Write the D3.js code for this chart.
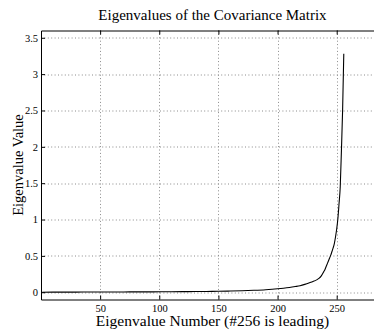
<!DOCTYPE html>
<html>
<head>
<meta charset="utf-8">
<script src="https://cdn.jsdelivr.net/npm/d3@7"></script>
<style>
  body { margin: 0; background: white; }
  svg { display: block; }
  text { font-family: "Liberation Serif", "DejaVu Serif", serif; fill: black; }
</style>
</head>
<body>
<div id="chart"></div>
<script>
//----------data---------
// eigenvalue number (x) and eigenvalue (y), denser where the curve bends
const eigIndex = [1, 10, 20, 30, 40, 50, 60, 70, 80, 90, 100, 110, 120, 130, 140, 150,
  160, 170, 180, 190, 200, 205, 210, 215, 219, 223, 227, 230, 233, 235, 237, 239, 240,
  241, 242, 243, 244, 245, 246, 247, 248, 249, 250, 251, 252, 253, 254, 255, 256];
const eigValue = [0.0003, 0.001, 0.0015, 0.002, 0.0025, 0.003, 0.0035, 0.004, 0.0045, 0.005,
  0.006, 0.007, 0.008, 0.0095, 0.011, 0.013, 0.016, 0.021, 0.027, 0.035, 0.047, 0.055, 0.065,
  0.078, 0.09, 0.108, 0.13, 0.148, 0.17, 0.19, 0.225, 0.28, 0.31, 0.35, 0.39, 0.43, 0.47, 0.51,
  0.56, 0.61, 0.67, 0.76, 0.87, 1.01, 1.22, 1.45, 1.95, 2.5, 3.28];

const xTicks = [50, 100, 150, 200, 250];
const yTicks = [0, 0.5, 1, 1.5, 2, 2.5, 3, 3.5];
const xDomain = [0, 290];
const yDomain = [-0.1, 3.6];

const titleText = "Eigenvalues of the Covariance Matrix";
const xLabelText = "Eigenvalue Number (#256 is leading)";
const yLabelText = "Eigenvalue Value";

//----------layout---------
const width = 374, height = 331;
const margin = {top: 30.5, right: -10, bottom: 31.5, left: 41};
const plotW = width - margin.left - margin.right;
const plotH = height - margin.top - margin.bottom;

const svg = d3.select("#chart").append("svg")
  .attr("width", width)
  .attr("height", height);

const x = d3.scaleLinear().domain(xDomain).range([0, plotW]);
const y = d3.scaleLinear().domain(yDomain).range([plotH, 0]);

const g = svg.append("g")
  .attr("transform", `translate(${margin.left},${margin.top})`);

// dotted grid
g.append("g").selectAll("line")
  .data(xTicks)
  .join("line")
  .attr("x1", d => Math.round(x(d)) + 0.5)
  .attr("x2", d => Math.round(x(d)) + 0.5)
  .attr("y1", 0)
  .attr("y2", plotH)
  .attr("stroke", "#8a8a8a")
  .attr("stroke-width", 1)
  .attr("stroke-dasharray", "1,2.4");

g.append("g").selectAll("line")
  .data(yTicks)
  .join("line")
  .attr("x1", 0)
  .attr("x2", plotW)
  .attr("y1", d => Math.round(y(d)) + 0.5)
  .attr("y2", d => Math.round(y(d)) + 0.5)
  .attr("stroke", "#8a8a8a")
  .attr("stroke-width", 1)
  .attr("stroke-dasharray", "1,2.4");

// the eigenvalue curve
const line = d3.line()
  .x((d, i) => x(eigIndex[i]))
  .y(d => y(d))
  .curve(d3.curveMonotoneX);

g.append("path")
  .datum(eigValue)
  .attr("fill", "none")
  .attr("stroke", "black")
  .attr("stroke-width", 1.1)
  .attr("stroke-linejoin", "round")
  .attr("d", line);

// axes, ticks pointing inward like matlab
const bottomAxis = d3.axisBottom(x)
  .tickValues(xTicks)
  .tickSizeInner(-4)
  .tickSizeOuter(0)
  .tickPadding(5);

const bottomG = g.append("g")
  .attr("transform", `translate(0,${plotH})`)
  .call(bottomAxis);

const topAxis = d3.axisTop(x)
  .tickValues(xTicks)
  .tickSizeInner(-4)
  .tickSizeOuter(0)
  .tickFormat("");

const topG = g.append("g").call(topAxis);

const leftAxis = d3.axisLeft(y)
  .tickValues(yTicks)
  .tickSizeInner(-4)
  .tickSizeOuter(0)
  .tickPadding(3)
  .tickFormat(d => d3.format("")(d));

const leftG = g.append("g").call(leftAxis);

[bottomG, topG, leftG].forEach(ax => {
  ax.attr("font-family", null);
  ax.select(".domain").attr("stroke", "black").attr("stroke-width", 1);
  ax.selectAll(".tick line").attr("stroke", "black");
  ax.selectAll(".tick text")
    .style("font-family", "'Liberation Serif'")
    .style("font-size", "10.5px")
    .attr("fill", "black");
});

// titles
svg.append("text")
  .attr("x", margin.left + plotW / 2)
  .attr("y", 20)
  .attr("text-anchor", "middle")
  .style("font-size", "15px")
  .text(titleText);

svg.append("text")
  .attr("x", margin.left + plotW / 2)
  .attr("y", 326)
  .attr("text-anchor", "middle")
  .style("font-size", "15.5px")
  .text(xLabelText);

svg.append("text")
  .attr("transform", `translate(23,${margin.top + plotH / 2}) rotate(-90)`)
  .attr("text-anchor", "middle")
  .style("font-size", "14.5px")
  .text(yLabelText);
</script>
</body>
</html>
